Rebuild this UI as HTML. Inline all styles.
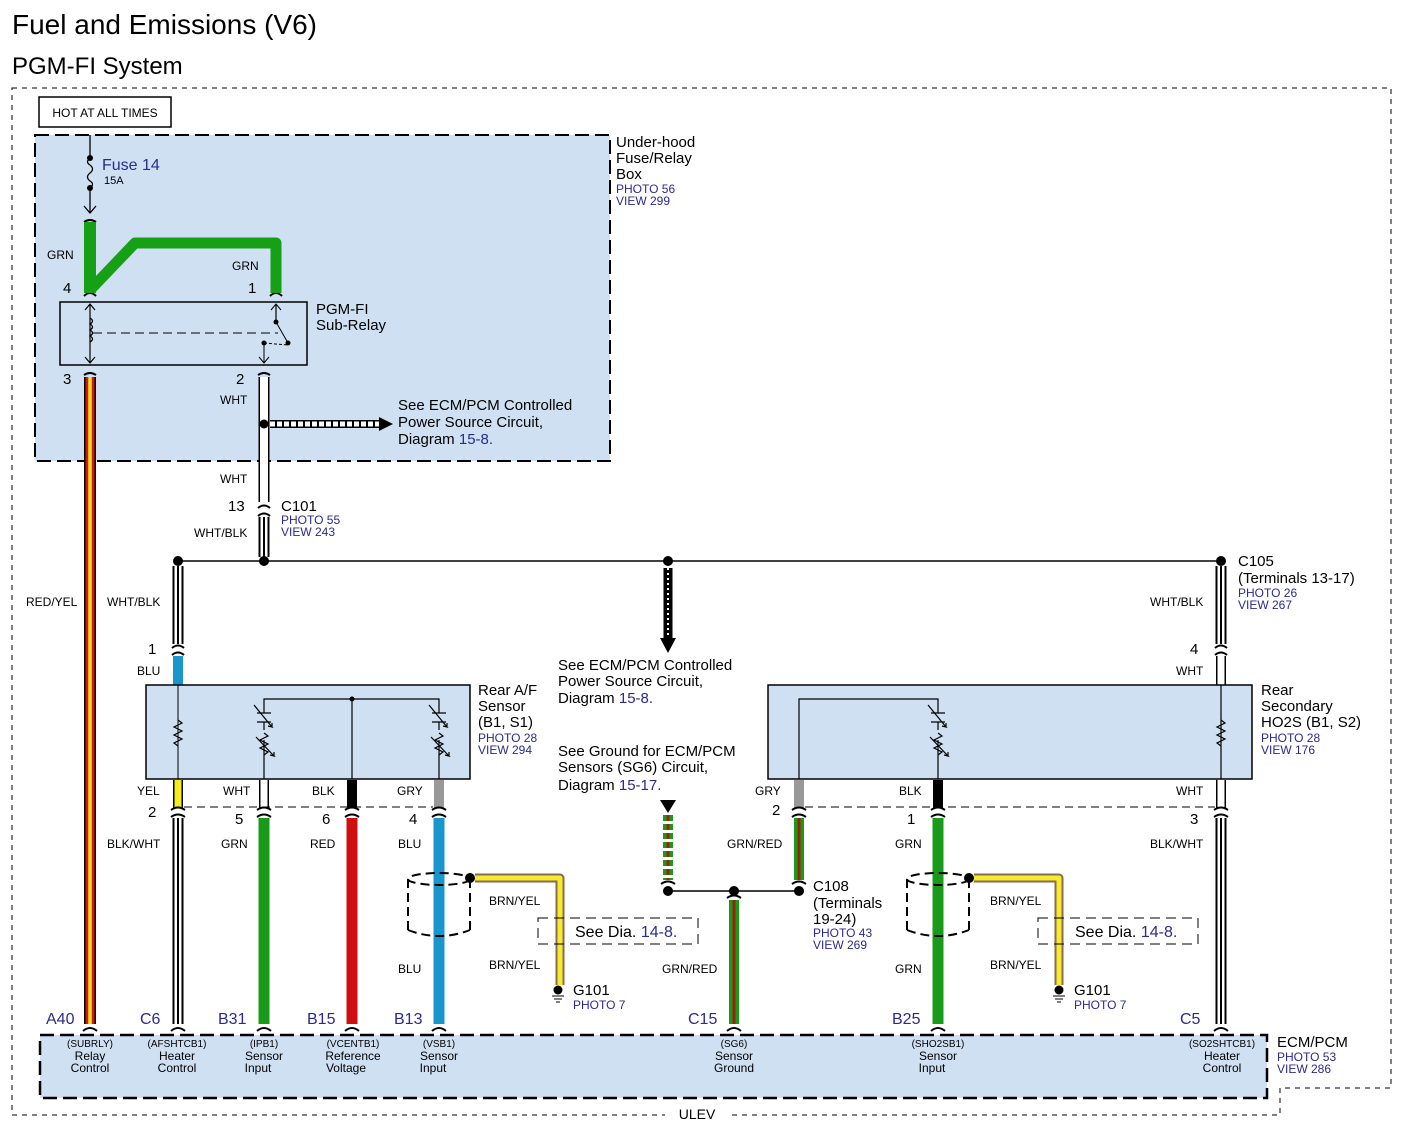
<!DOCTYPE html>
<html><head><meta charset="utf-8"><style>
html,body{margin:0;padding:0;background:#fff;}
svg{display:block;font-family:"Liberation Sans",Arial,sans-serif;}
.s{font-size:12px;fill:#000}
.m{font-size:15px;fill:#000}
.b{fill:#2a2a90}
.bs{font-size:12px;fill:#2a2a90}
.ct{font-size:11px;text-anchor:middle}
</style></head><body>
<svg width="1406" height="1134" viewBox="0 0 1406 1134" xmlns="http://www.w3.org/2000/svg">
<text x="12" y="34" font-size="28">Fuel and Emissions (V6)</text>
<text x="12" y="74" font-size="24">PGM-FI System</text>
<!-- outer border -->
<path d="M12 88 H1391 V1088 H1280 V1115 H12 Z" fill="none" stroke="#000" stroke-width="1" stroke-dasharray="5,5"/>
<rect x="665" y="1108" width="64" height="12" fill="#fff"/>
<text x="697" y="1119" font-size="14" text-anchor="middle">ULEV</text>
<rect x="39" y="97" width="132" height="30" fill="#fff" stroke="#000" stroke-width="1.5"/>
<text x="105" y="117" font-size="12" text-anchor="middle">HOT AT ALL TIMES</text>

<!-- fuse box -->
<rect x="35" y="135" width="575" height="326" fill="#cfe0f3" stroke="#000" stroke-width="2" stroke-dasharray="14,6"/>
<text x="616" y="147" font-size="15">Under-hood</text>
<text x="616" y="163" font-size="15">Fuse/Relay</text>
<text x="616" y="179" font-size="15">Box</text>
<text x="616" y="193" class="bs">PHOTO 56</text>
<text x="616" y="205" class="bs">VIEW 299</text>
<!-- fuse -->
<line x1="90" y1="135" x2="90" y2="158" stroke="#000" stroke-width="1.3"/>
<circle cx="90" cy="158" r="3"/><circle cx="90" cy="188" r="3"/>
<path d="M90 158 q-5 4 0 7 q5 4 0 8 q-5 4 0 8 q5 3 0 7" fill="none" stroke="#000" stroke-width="1.3"/>
<line x1="90" y1="188" x2="90" y2="212" stroke="#000" stroke-width="1.3"/>
<path d="M84 206 L90 213 L96 206" fill="none" stroke="#000" stroke-width="1.3"/>
<text x="102" y="170" font-size="16" class="b">Fuse 14</text>
<text x="104" y="184" font-size="11">15A</text>
<!-- green -->
<path d="M84 222 Q90 218 96 222 M84 296 Q90 290 96 296 M270 296 Q276 290 282 296" fill="none" stroke="#000" stroke-width="2"/>
<line x1="90" y1="222" x2="90" y2="293" stroke="#16a016" stroke-width="12"/>
<path d="M92 288 L135 243 H276 V293" fill="none" stroke="#16a016" stroke-width="11" stroke-linejoin="round"/>
<text x="47" y="259" class="s">GRN</text>
<text x="232" y="270" class="s">GRN</text>
<text x="63" y="293" class="m">4</text>
<text x="248" y="293" class="m">1</text>
<!-- relay -->
<rect x="60" y="302" width="247" height="63" fill="#cfe0f3" stroke="#000" stroke-width="1.5"/>
<text x="316" y="314" font-size="15">PGM-FI</text>
<text x="316" y="330" font-size="15">Sub-Relay</text>
<line x1="90" y1="304" x2="90" y2="363" stroke="#000" stroke-width="1.2"/>
<path d="M85 310 L90 304 L95 310 M85 357 L90 363 L95 357" fill="none" stroke="#000" stroke-width="1.2"/>
<path d="M90 318 q5 3 0 6 q5 3 0 6 q5 3 0 6 q5 3 0 6" fill="none" stroke="#000" stroke-width="1.3"/>
<line x1="93" y1="333" x2="278" y2="333" stroke="#000" stroke-dasharray="9,5"/>
<line x1="276" y1="304" x2="276" y2="322" stroke="#000" stroke-width="1.2"/>
<path d="M271 310 L276 304 L281 310" fill="none" stroke="#000"/>
<circle cx="276" cy="322" r="2.5"/><line x1="276" y1="322" x2="288" y2="343" stroke="#000"/><circle cx="288" cy="343" r="2.5"/>
<circle cx="264" cy="343" r="2.5"/><line x1="264" y1="343" x2="288" y2="345" stroke="#000" stroke-dasharray="3,2"/>
<line x1="264" y1="343" x2="264" y2="363" stroke="#000"/>
<path d="M259 357 L264 363 L269 357" fill="none" stroke="#000"/>
<text x="63" y="384" class="m">3</text>
<text x="236" y="384" class="m">2</text>
<path d="M84 375 Q90 371 96 375 M258 375 Q264 371 270 375" fill="none" stroke="#000" stroke-width="2"/>
<!-- RED/YEL -->
<line x1="90" y1="377" x2="90" y2="1024" stroke="#000" stroke-width="12"/>
<line x1="90" y1="377" x2="90" y2="1024" stroke="#d01818" stroke-width="9"/>
<line x1="90" y1="377" x2="90" y2="1024" stroke="#f5e020" stroke-width="3.5"/>
<text x="26" y="606" class="s">RED/YEL</text>
<!-- WHT x=264 -->
<line x1="264" y1="377" x2="264" y2="502" stroke="#000" stroke-width="11"/>
<line x1="264" y1="377" x2="264" y2="502" stroke="#fff" stroke-width="8"/>
<text x="220" y="404" class="s">WHT</text>
<text x="220" y="483" class="s">WHT</text>
<circle cx="264" cy="424" r="4.5"/>
<line x1="270" y1="424" x2="380" y2="424" stroke="#000" stroke-width="8"/>
<line x1="270" y1="424" x2="380" y2="424" stroke="#fff" stroke-width="5" stroke-dasharray="5,2"/>
<path d="M379 417 L393 424 L379 431 Z"/>
<text x="398" y="410" font-size="15">See ECM/PCM Controlled</text>
<text x="398" y="427" font-size="15">Power Source Circuit,</text>
<text x="398" y="444" font-size="15">Diagram <tspan class="b">15-8.</tspan></text>
<!-- C101 -->
<path d="M258 508 Q264 503 270 508 M258 516 Q264 511 270 516" fill="none" stroke="#000" stroke-width="2"/>
<line x1="264" y1="517" x2="264" y2="557" stroke="#000" stroke-width="11"/>
<line x1="264" y1="517" x2="264" y2="557" stroke="#fff" stroke-width="7"/>
<line x1="264" y1="517" x2="264" y2="557" stroke="#000" stroke-width="2"/>
<text x="228" y="511" class="m">13</text>
<text x="281" y="511" font-size="15">C101</text>
<text x="281" y="524" class="bs" font-size="11">PHOTO 55</text>
<text x="281" y="536" class="bs" font-size="11">VIEW 243</text>
<text x="194" y="537" class="s">WHT/BLK</text>
<!-- bus -->
<line x1="178" y1="561" x2="1221" y2="561" stroke="#000" stroke-width="1.5"/>
<circle cx="178" cy="561" r="5"/><circle cx="264" cy="561" r="5"/><circle cx="668" cy="561" r="5"/><circle cx="1221" cy="561" r="5"/>
<!-- dashed down arrow -->
<line x1="668" y1="568" x2="668" y2="640" stroke="#000" stroke-width="9"/>
<line x1="668" y1="568" x2="668" y2="640" stroke="#fff" stroke-width="2" stroke-dasharray="2,3"/>
<path d="M660 638 L676 638 L668 653 Z"/>
<text x="558" y="670" font-size="15">See ECM/PCM Controlled</text>
<text x="558" y="686" font-size="15">Power Source Circuit,</text>
<text x="558" y="703" font-size="15">Diagram <tspan class="b">15-8.</tspan></text>
<text x="558" y="756" font-size="15">See Ground for ECM/PCM</text>
<text x="558" y="772" font-size="15">Sensors (SG6) Circuit,</text>
<text x="558" y="790" font-size="15">Diagram <tspan class="b">15-17.</tspan></text>
<!-- left sensor top wire -->
<line x1="178" y1="566" x2="178" y2="644" stroke="#000" stroke-width="11"/>
<line x1="178" y1="566" x2="178" y2="644" stroke="#fff" stroke-width="7"/>
<line x1="178" y1="566" x2="178" y2="644" stroke="#000" stroke-width="2"/>
<text x="107" y="606" class="s">WHT/BLK</text>
<text x="148" y="654" class="m">1</text>
<path d="M172 648 Q178 643 184 648 M172 655 Q178 650 184 655" fill="none" stroke="#000" stroke-width="2"/>
<line x1="178" y1="656" x2="178" y2="685" stroke="#1a96cc" stroke-width="10"/>
<text x="137" y="675" class="s">BLU</text>
<!-- right sensor top wire -->
<line x1="1221" y1="566" x2="1221" y2="644" stroke="#000" stroke-width="11"/>
<line x1="1221" y1="566" x2="1221" y2="644" stroke="#fff" stroke-width="7"/>
<line x1="1221" y1="566" x2="1221" y2="644" stroke="#000" stroke-width="2"/>
<text x="1150" y="606" class="s">WHT/BLK</text>
<text x="1190" y="654" class="m">4</text>
<path d="M1215 648 Q1221 643 1227 648 M1215 655 Q1221 650 1227 655" fill="none" stroke="#000" stroke-width="2"/>
<line x1="1221" y1="656" x2="1221" y2="685" stroke="#000" stroke-width="10"/>
<line x1="1221" y1="656" x2="1221" y2="685" stroke="#fff" stroke-width="7"/>
<text x="1176" y="675" class="s">WHT</text>
<text x="1238" y="566" font-size="15">C105</text>
<text x="1238" y="583" font-size="15">(Terminals 13-17)</text>
<text x="1238" y="597" class="bs" font-size="11">PHOTO 26</text>
<text x="1238" y="609" class="bs" font-size="11">VIEW 267</text>

<!-- left sensor box -->
<rect x="146" y="685" width="324" height="94" fill="#cfe0f3" stroke="#000" stroke-width="1.5"/>
<line x1="178" y1="685" x2="178" y2="779" stroke="#000"/>
<path d="M178 720 l4 3 l-8 4 l8 4 l-8 4 l8 4 l-8 4 l4 3" fill="none" stroke="#000" stroke-width="1.2"/>
<path d="M264 779 V740 M264 730 V722 M264 713 V699 H439 V713 M439 722 V730 M439 740 V779 M352 699 V779" fill="none" stroke="#000" stroke-width="1.2"/>
<circle cx="352" cy="699" r="2.5"/>
<g stroke="#000" stroke-width="1.2" fill="none">
<path d="M257 713 H271 M257 722 H271 M254 705 L272 727 l-4 -1 M272 727 l0 -4"/>
<path d="M264 733 l4 3 l-8 4 l8 4 l-8 4 l8 4 l-4 3 M256 737 L274 756 l-4 -1 M274 756 l0 -4"/>
<path d="M432 713 H446 M432 722 H446 M429 705 L447 727 l-4 -1 M447 727 l0 -4"/>
<path d="M439 733 l4 3 l-8 4 l8 4 l-8 4 l8 4 l-4 3 M431 737 L449 756 l-4 -1 M449 756 l0 -4"/>
</g>
<text x="478" y="695" font-size="15">Rear A/F</text>
<text x="478" y="711" font-size="15">Sensor</text>
<text x="478" y="727" font-size="15">(B1, S1)</text>
<text x="478" y="742" class="bs" font-size="11">PHOTO 28</text>
<text x="478" y="754" class="bs" font-size="11">VIEW 294</text>
<!-- left stubs -->
<line x1="178" y1="780" x2="178" y2="808" stroke="#000" stroke-width="10"/><line x1="178" y1="780" x2="178" y2="808" stroke="#f5ec20" stroke-width="7"/>
<line x1="264" y1="780" x2="264" y2="808" stroke="#000" stroke-width="10"/><line x1="264" y1="780" x2="264" y2="808" stroke="#fff" stroke-width="7"/>
<line x1="352" y1="780" x2="352" y2="808" stroke="#000" stroke-width="10"/>
<line x1="439" y1="780" x2="439" y2="808" stroke="#999" stroke-width="10"/>
<line x1="184" y1="807" x2="433" y2="807" stroke="#000" stroke-dasharray="8,5"/>
<text x="137" y="795" class="s">YEL</text><text x="223" y="795" class="s">WHT</text><text x="312" y="795" class="s">BLK</text><text x="397" y="795" class="s">GRY</text>
<text x="148" y="817" class="m">2</text><text x="235" y="824" class="m">5</text><text x="322" y="824" class="m">6</text><text x="409" y="824" class="m">4</text>
<text x="107" y="848" class="s">BLK/WHT</text><text x="221" y="848" class="s">GRN</text><text x="310" y="848" class="s">RED</text><text x="398" y="848" class="s">BLU</text>
<g fill="none" stroke="#000" stroke-width="2">
<path d="M171 810 Q178 805 185 810 M171 817 Q178 812 185 817"/>
<path d="M257 810 Q264 805 271 810 M257 817 Q264 812 271 817"/>
<path d="M345 810 Q352 805 359 810 M345 817 Q352 812 359 817"/>
<path d="M432 810 Q439 805 446 810 M432 817 Q439 812 446 817"/>
</g>
<line x1="178" y1="818" x2="178" y2="1024" stroke="#000" stroke-width="11"/><line x1="178" y1="818" x2="178" y2="1024" stroke="#fff" stroke-width="7"/><line x1="178" y1="818" x2="178" y2="1024" stroke="#000" stroke-width="2"/>
<line x1="264" y1="818" x2="264" y2="1024" stroke="#1a9a1a" stroke-width="11"/>
<line x1="352" y1="818" x2="352" y2="1024" stroke="#d01010" stroke-width="11"/>
<line x1="439" y1="818" x2="439" y2="1024" stroke="#1a96cc" stroke-width="11"/>
<text x="398" y="973" class="s">BLU</text>
<!-- left shield -->
<g fill="none" stroke="#000" stroke-width="2" stroke-dasharray="9,5">
<ellipse cx="439" cy="879" rx="31" ry="6"/>
<path d="M408 879 V930 M470 879 V930 M408 930 Q439 942 470 930"/>
</g>
<circle cx="470" cy="878" r="5"/>
<path d="M475 878 H560 V985" fill="none" stroke="#8b6a50" stroke-width="9" stroke-linejoin="round"/>
<path d="M475 878 H560 V985" fill="none" stroke="#f5ec30" stroke-width="5" stroke-linejoin="round"/>
<text x="489" y="905" class="s">BRN/YEL</text><text x="489" y="969" class="s">BRN/YEL</text>
<rect x="538" y="918" width="160" height="26" fill="none" stroke="#000" stroke-dasharray="10,6"/>
<text x="575" y="937" font-size="16">See Dia. <tspan class="b">14-8.</tspan></text>
<circle cx="558" cy="990" r="4.5"/>
<path d="M552 996 H564 M554 999 H562 M556 1002 H560" stroke="#000"/>
<text x="573" y="995" font-size="15">G101</text>
<text x="573" y="1009" class="bs" font-size="11">PHOTO 7</text>

<!-- right sensor box -->
<rect x="768" y="685" width="484" height="94" fill="#cfe0f3" stroke="#000" stroke-width="1.5"/>
<path d="M799 779 V699 H938 V713 M938 722 V730 M938 740 V779 M1221 685 V779" fill="none" stroke="#000" stroke-width="1.2"/>
<g stroke="#000" stroke-width="1.2" fill="none">
<path d="M931 713 H945 M931 722 H945 M928 705 L946 727 l-4 -1 M946 727 l0 -4"/>
<path d="M938 733 l4 3 l-8 4 l8 4 l-8 4 l8 4 l-4 3 M930 737 L948 756 l-4 -1 M948 756 l0 -4"/>
<path d="M1221 720 l4 3 l-8 4 l8 4 l-8 4 l8 4 l-8 4 l4 3"/>
</g>
<text x="1261" y="695" font-size="15">Rear</text>
<text x="1261" y="711" font-size="15">Secondary</text>
<text x="1261" y="727" font-size="15">HO2S (B1, S2)</text>
<text x="1261" y="742" class="bs" font-size="11">PHOTO 28</text>
<text x="1261" y="754" class="bs" font-size="11">VIEW 176</text>
<line x1="799" y1="780" x2="799" y2="808" stroke="#999" stroke-width="10"/>
<line x1="938" y1="780" x2="938" y2="808" stroke="#000" stroke-width="10"/>
<line x1="1221" y1="780" x2="1221" y2="808" stroke="#000" stroke-width="10"/><line x1="1221" y1="780" x2="1221" y2="808" stroke="#fff" stroke-width="7"/>
<line x1="805" y1="807" x2="1215" y2="807" stroke="#000" stroke-dasharray="8,5"/>
<text x="755" y="795" class="s">GRY</text><text x="899" y="795" class="s">BLK</text><text x="1176" y="795" class="s">WHT</text>
<text x="772" y="815" class="m">2</text><text x="907" y="824" class="m">1</text><text x="1190" y="824" class="m">3</text>
<text x="727" y="848" class="s">GRN/RED</text><text x="895" y="848" class="s">GRN</text><text x="1150" y="848" class="s">BLK/WHT</text>
<g fill="none" stroke="#000" stroke-width="2">
<path d="M792 810 Q799 805 806 810 M792 817 Q799 812 806 817"/>
<path d="M931 810 Q938 805 945 810 M931 817 Q938 812 945 817"/>
<path d="M1214 810 Q1221 805 1228 810 M1214 817 Q1221 812 1228 817"/>
<path d="M792 884 Q799 879 806 884 M661 884 Q668 879 675 884 M727 898 Q734 893 741 898"/>
</g>
<line x1="799" y1="818" x2="799" y2="880" stroke="#1a9a1a" stroke-width="10"/><line x1="799" y1="818" x2="799" y2="880" stroke="#a02010" stroke-width="3"/>
<line x1="938" y1="818" x2="938" y2="1024" stroke="#1a9a1a" stroke-width="11"/>
<line x1="1221" y1="818" x2="1221" y2="1024" stroke="#000" stroke-width="11"/><line x1="1221" y1="818" x2="1221" y2="1024" stroke="#fff" stroke-width="7"/><line x1="1221" y1="818" x2="1221" y2="1024" stroke="#000" stroke-width="2"/>
<text x="895" y="973" class="s">GRN</text>
<!-- C108 -->
<path d="M660 800 L676 800 L668 813 Z"/>
<line x1="668" y1="815" x2="668" y2="880" stroke="#1a9a1a" stroke-width="10" stroke-dasharray="6,3"/>
<line x1="668" y1="815" x2="668" y2="880" stroke="#a02010" stroke-width="3" stroke-dasharray="6,3"/>
<line x1="668" y1="891" x2="799" y2="891" stroke="#000" stroke-width="1.5"/>
<circle cx="668" cy="891" r="5"/><circle cx="734" cy="891" r="5"/><circle cx="799" cy="891" r="5"/>
<line x1="734" y1="900" x2="734" y2="1024" stroke="#1a9a1a" stroke-width="10"/><line x1="734" y1="900" x2="734" y2="1024" stroke="#a02010" stroke-width="3"/>
<text x="662" y="973" class="s">GRN/RED</text>
<text x="813" y="891" font-size="15">C108</text>
<text x="813" y="908" font-size="15">(Terminals</text>
<text x="813" y="924" font-size="15">19-24)</text>
<text x="813" y="937" class="bs" font-size="11">PHOTO 43</text>
<text x="813" y="949" class="bs" font-size="11">VIEW 269</text>
<!-- right shield -->
<g fill="none" stroke="#000" stroke-width="2" stroke-dasharray="9,5">
<ellipse cx="938" cy="879" rx="31" ry="6"/>
<path d="M907 879 V930 M969 879 V930 M907 930 Q938 942 969 930"/>
</g>
<circle cx="969" cy="878" r="5"/>
<path d="M974 878 H1059 V985" fill="none" stroke="#8b6a50" stroke-width="9" stroke-linejoin="round"/>
<path d="M974 878 H1059 V985" fill="none" stroke="#f5ec30" stroke-width="5" stroke-linejoin="round"/>
<text x="990" y="905" class="s">BRN/YEL</text><text x="990" y="969" class="s">BRN/YEL</text>
<rect x="1038" y="918" width="160" height="26" fill="none" stroke="#000" stroke-dasharray="10,6"/>
<text x="1075" y="937" font-size="16">See Dia. <tspan class="b">14-8.</tspan></text>
<circle cx="1059" cy="990" r="4.5"/>
<path d="M1053 996 H1065 M1055 999 H1063 M1057 1002 H1061" stroke="#000"/>
<text x="1074" y="995" font-size="15">G101</text>
<text x="1074" y="1009" class="bs" font-size="11">PHOTO 7</text>

<!-- ECM -->
<g fill="none" stroke="#000" stroke-width="2">
<path d="M83 1031 Q90 1025 97 1031 M171 1031 Q178 1025 185 1031 M257 1031 Q264 1025 271 1031 M345 1031 Q352 1025 359 1031 M432 1031 Q439 1025 446 1031 M727 1031 Q734 1025 741 1031 M931 1031 Q938 1025 945 1031 M1214 1031 Q1221 1025 1228 1031"/>
</g>
<rect x="40" y="1035" width="1227" height="63" fill="#cfe0f3" stroke="#000" stroke-width="2.5" stroke-dasharray="14,6"/>
<g font-size="16" class="b">
<text x="46" y="1024" class="b">A40</text><text x="140" y="1024" class="b">C6</text><text x="218" y="1024" class="b">B31</text><text x="307" y="1024" class="b">B15</text><text x="394" y="1024" class="b">B13</text><text x="688" y="1024" class="b">C15</text><text x="892" y="1024" class="b">B25</text><text x="1180" y="1024" class="b">C5</text>
</g>
<g font-size="12" text-anchor="middle">
<text x="90" y="1047" font-size="10">(SUBRLY)</text><text x="90" y="1060">Relay</text><text x="90" y="1072">Control</text>
<text x="177" y="1047" font-size="10">(AFSHTCB1)</text><text x="177" y="1060">Heater</text><text x="177" y="1072">Control</text>
<text x="264" y="1047" font-size="10">(IPB1)</text><text x="264" y="1060">Sensor</text><text x="258" y="1072">Input</text>
<text x="353" y="1047" font-size="10">(VCENTB1)</text><text x="353" y="1060">Reference</text><text x="346" y="1072">Voltage</text>
<text x="439" y="1047" font-size="10">(VSB1)</text><text x="439" y="1060">Sensor</text><text x="433" y="1072">Input</text>
<text x="734" y="1047" font-size="10">(SG6)</text><text x="734" y="1060">Sensor</text><text x="734" y="1072">Ground</text>
<text x="938" y="1047" font-size="10">(SHO2SB1)</text><text x="938" y="1060">Sensor</text><text x="932" y="1072">Input</text>
<text x="1222" y="1047" font-size="10">(SO2SHTCB1)</text><text x="1222" y="1060">Heater</text><text x="1222" y="1072">Control</text>
</g>
<text x="1277" y="1047" font-size="15">ECM/PCM</text>
<text x="1277" y="1061" class="bs">PHOTO 53</text>
<text x="1277" y="1073" class="bs">VIEW 286</text>
</svg>
</body></html>
